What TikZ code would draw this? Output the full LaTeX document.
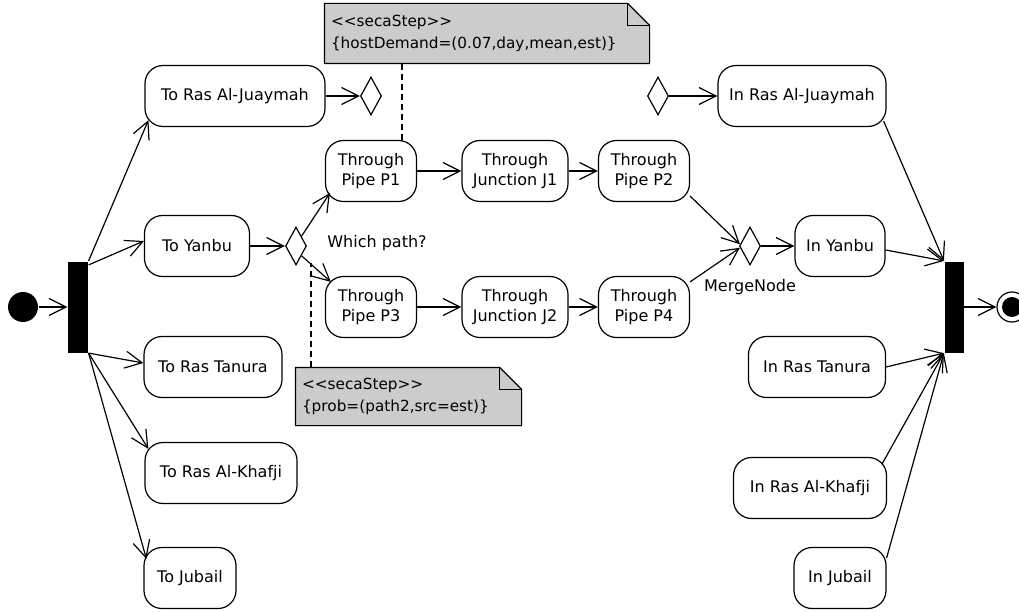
\documentclass[tikz,border=0pt]{standalone}
\usepackage{fontspec}
\setmainfont{DejaVu Sans}
\usetikzlibrary{positioning,arrows.meta,shapes.geometric}
\definecolor{notegray}{RGB}{204,204,204}

\begin{document}
\begin{tikzpicture}[x=1pt,y=-1pt,line width=1.2pt,
  every node/.style={font=\fontsize{16}{20}\selectfont},
  act/.style={draw,rounded corners=18pt,minimum height=61pt,align=center,inner sep=2pt},
  choice/.style={draw,diamond,minimum width=21pt,minimum height=38pt,inner sep=0pt},
  bar/.style={fill=black,minimum width=20pt,minimum height=91pt,inner sep=0pt},
  note/.style={fill=notegray,align=left,inner xsep=6pt,font=\fontsize{15.3}{22}\selectfont},
  flow/.style={-{Straight Barb[length=17pt,width=17pt]}},
  link/.style={dash pattern=on 6pt off 4pt}]
\useasboundingbox (0,0) rectangle (1019,612);
\node[circle,fill=black,minimum size=30pt,inner sep=0pt] (init) at (23,307) {};
\node[bar] (fork) at (78,307) {};
\node[act,minimum width=180pt] (toraj) at (235,96) {To Ras Al-Juaymah};
\node[act,minimum width=105pt] (toyan) at (197,246) {To Yanbu};
\node[act,minimum width=138pt] (totan) at (213,367) {To Ras Tanura};
\node[act,minimum width=152pt] (tokha) at (221,473) {To Ras Al-Khafji};
\node[act,minimum width=92pt] (tojub) at (190,578) {To Jubail};
\node[choice] (decraj) at (371,96) {};
\node[choice] (decyan) at (296,246) {};
\node[act,minimum width=91pt] (p1) at (371,171) {Through\\Pipe P1};
\node[act,minimum width=106pt] (j1) at (515,171) {Through\\Junction J1};
\node[act,minimum width=91pt] (p2) at (644,171) {Through\\Pipe P2};
\node[act,minimum width=91pt] (p3) at (371,307) {Through\\Pipe P3};
\node[act,minimum width=106pt] (j2) at (515,307) {Through\\Junction J2};
\node[act,minimum width=91pt] (p4) at (644,307) {Through\\Pipe P4};
\node (whichlbl) at (377,243) {Which path?};
\node[choice] (merge) at (750,246) {};
\node (mergelbl) at (750,287) {MergeNode};
\node[choice] (inchoice) at (658,96) {};
\node[act,minimum width=168pt] (inraj) at (802,96) {In Ras Al-Juaymah};
\node[act,minimum width=90pt] (inyan) at (840,246) {In Yanbu};
\node[act,minimum width=137pt] (intan) at (817,367) {In Ras Tanura};
\node[act,minimum width=153pt] (inkha) at (810,488) {In Ras Al-Khafji};
\node[act,minimum width=92pt] (injub) at (840,578) {In Jubail};
\node[bar,minimum width=19pt] (join) at (954,307) {};
\node[circle,draw,minimum size=30pt,inner sep=0pt,
  path picture={\fill (path picture bounding box.center) circle (10pt);}] (final) at (1012,307) {};
% notes
\node[note,text width=312pt,minimum height=59pt] (hostnote) at (487,33.5)
  {<\kern0pt<secaStep>\kern0pt>\\\{hostDemand=(0.07,day,mean,est)\}};
\fill[white] ([xshift=-22pt]hostnote.north east) -- (hostnote.north east) -- ([yshift=-22pt]hostnote.north east) -- cycle;
\draw (hostnote.south west) -- (hostnote.north west) -- ([xshift=-22pt]hostnote.north east) -- ([yshift=-22pt]hostnote.north east) -- (hostnote.south east) -- cycle;
\draw ([xshift=-22pt]hostnote.north east) |- ([yshift=-22pt]hostnote.north east);
\node[note,text width=213pt,minimum height=57pt] (probnote) at (408.5,396.5)
  {<\kern0pt<secaStep>\kern0pt>\\\{prob=(path2,src=est)\}};
\fill[white] ([xshift=-22pt]probnote.north east) -- (probnote.north east) -- ([yshift=-22pt]probnote.north east) -- cycle;
\draw (probnote.south west) -- (probnote.north west) -- ([xshift=-22pt]probnote.north east) -- ([yshift=-22pt]probnote.north east) -- (probnote.south east) -- cycle;
\draw ([xshift=-22pt]probnote.north east) |- ([yshift=-22pt]probnote.north east);
\coordinate (hostpt) at ([xshift=31pt]p1.north);
\coordinate (pathpt) at (311,263);
\draw[link] (hostnote.south -| hostpt) -- (hostpt);
\draw[link] (probnote.north -| pathpt) -- (pathpt);
% flows
\draw[flow] (init) -- (fork);
\draw[flow] (fork.north east) -- ([xshift=4pt,yshift=7pt]toraj.south west);
\draw[flow] ([yshift=-4pt]fork.north east) -- ([yshift=5pt]toyan.west);
\draw[flow] (fork.south east) -- ([yshift=4pt]totan.west);
\draw[flow] (fork.south east) -- ([xshift=4pt,yshift=-7pt]tokha.north west);
\draw[flow] (fork.south east) -- ([xshift=3pt,yshift=-12pt]tojub.north west);
\draw[flow] (toraj) -- (decraj); \draw[flow] (toyan) -- (decyan);
\draw[flow] (decyan.north east) -- ([xshift=5pt,yshift=9pt]p1.south west);
\draw[flow] (decyan.south east) -- ([xshift=6pt,yshift=-6pt]p3.north west);
\draw[flow] (p1) -- (j1); \draw[flow] (j1) -- (p2);
\draw[flow] (p3) -- (j2); \draw[flow] (j2) -- (p4);
\draw[flow] ([yshift=6pt]p2.south east) -- (merge.170);
\draw[flow] ([yshift=-6pt]p4.north east) -- (merge.190);
\draw[flow] (merge) -- (inyan); \draw[flow] (inchoice) -- (inraj);
\draw[flow] ([xshift=-3pt,yshift=6pt]inraj.south east) -- (join.north west);
\draw[flow] ([yshift=-4pt]inyan.east) -- (join.north west);
\draw[flow] (intan.east) -- (join.south west);
\draw[flow] ([xshift=-5pt,yshift=-7pt]inkha.north east) -- (join.south west);
\draw[flow] ([yshift=-11pt]injub.north east) -- (join.south west);
\draw[flow] (join) -- (final);
\end{tikzpicture}
\end{document}
